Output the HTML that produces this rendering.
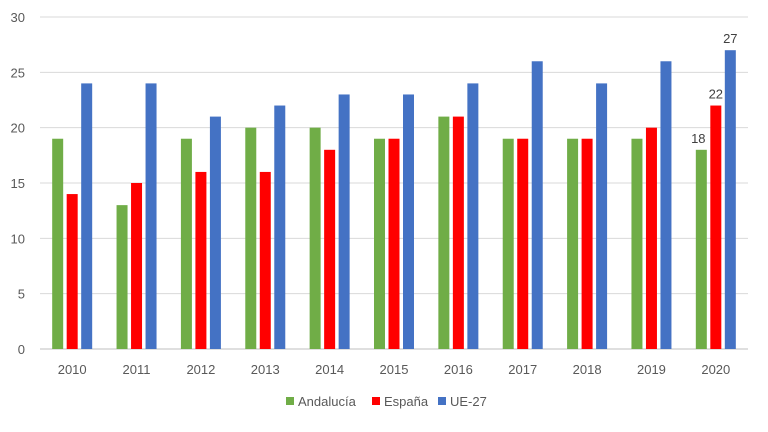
<!DOCTYPE html>
<html><head><meta charset="utf-8"><style>
body{margin:0;background:#fff;font-family:"Liberation Sans",sans-serif;}
</style></head><body>
<svg id="c" width="768" height="427" xmlns="http://www.w3.org/2000/svg"></svg>
<script>
const years=['2010','2011','2012','2013','2014','2015','2016','2017','2018','2019','2020'];
const andalucia=[19,13,19,20,20,19,21,19,19,19,18];
const espana=[14,15,16,16,18,19,21,19,19,20,22];
const ue27=[24,24,21,22,23,23,24,26,24,26,27];
const yTicks=[0,5,10,15,20,25,30];
const seriesNames=['Andalucía','España','UE-27'];
const colors=['#70ad47','#ff0000','#4472c4'];
const svg=document.getElementById('c');
const NS='http://www.w3.org/2000/svg';
const L=40,R=748,T=17,B=349;
const y=v=>B-(v/30)*(B-T);
const gw=(R-L)/years.length;
const x=i=>L+gw*(i+0.5);
function el(t,a,txt){const e=document.createElementNS(NS,t);for(const k in a)e.setAttribute(k,a[k]);if(txt!=null)e.textContent=txt;svg.appendChild(e);return e;}
yTicks.forEach(t=>{
 const g=el('line',{x1:L,x2:R,y1:y(t),y2:y(t),stroke:t===0?'#bfbfbf':'#d9d9d9','stroke-width':1});
 
 
 const lb=el('text',{x:25,y:y(t)+5,'text-anchor':'end','font-size':13,fill:'#595959'},t);
 
 
});
const data=[andalucia,espana,ue27];
const bw=11,step=14.5;
years.forEach((yr,i)=>{
 data.forEach((s,j)=>{
  const cx=x(i)+(j-1)*step;
  const r=el('rect',{x:cx-bw/2,y:y(s[i]),width:bw,height:B-y(s[i]),fill:colors[j]});
  
  
  if(i===years.length-1){
   const t=el('text',{x:cx-(j===0?3:0),y:y(s[i])-7,'text-anchor':'middle','font-size':13,fill:'#404040'},s[i]);
   
   
  }
 });
 const xl=el('text',{x:x(i),y:374,'text-anchor':'middle','font-size':13,fill:'#595959'},yr);
 
 
});
const lx=[286,372,438];
seriesNames.forEach((n,j)=>{
 const r=el('rect',{x:lx[j],y:397,width:8,height:8,fill:colors[j]});
 
 
 const t=el('text',{x:lx[j]+12,y:406,'font-size':13,fill:'#595959'},n);
 
 
});
</script>
</body></html>
